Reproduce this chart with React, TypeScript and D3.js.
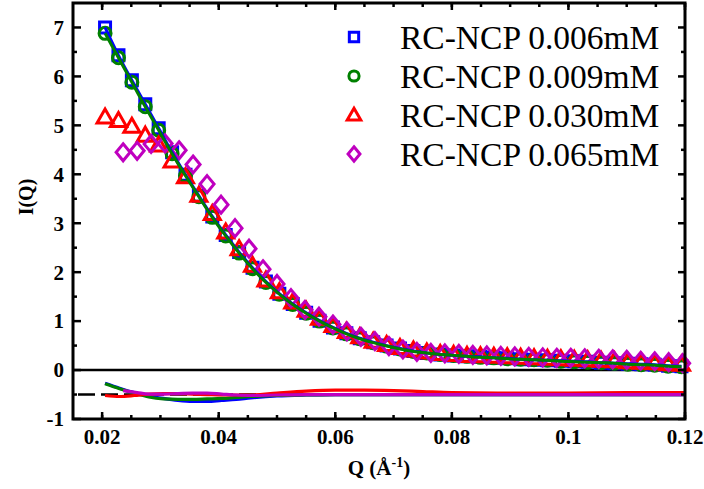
import React from 'react';
import * as d3 from 'd3';

// Q grid shared by the 0.006, 0.009 and 0.030 mM data sets
const qGrid = [
  0.0205, 0.0228, 0.0251, 0.0274, 0.0297, 0.032, 0.0343, 0.0366, 0.0389, 0.0412,
  0.0435, 0.0458, 0.0481, 0.0504, 0.0527, 0.055, 0.0573, 0.0596, 0.0619, 0.0642,
  0.0665, 0.0688, 0.0711, 0.0734, 0.0757, 0.078, 0.0803, 0.0826, 0.0849, 0.0872,
  0.0895, 0.0918, 0.0941, 0.0964, 0.0987, 0.101, 0.1033, 0.1056, 0.1079, 0.1102,
  0.1125, 0.1148, 0.1171, 0.1194,
];
// Q grid of the 0.065 mM data set
const qDiamond = [
  0.0236, 0.026, 0.0284, 0.0308, 0.0332, 0.0356, 0.038, 0.0404, 0.0428, 0.0452,
  0.0476, 0.05, 0.0524, 0.0548, 0.0572, 0.0596, 0.062, 0.0644, 0.0668, 0.0692,
  0.0716, 0.074, 0.0764, 0.0788, 0.0812, 0.0836, 0.086, 0.0884, 0.0908, 0.0932,
  0.0956, 0.098, 0.1004, 0.1028, 0.1052, 0.1076, 0.11, 0.1124, 0.1148, 0.1172,
  0.1196,
];

const blueI = [
  7.0, 6.43, 5.92, 5.43, 4.94, 4.45, 3.99, 3.56, 3.14, 2.76,
  2.41, 2.09, 1.81, 1.56, 1.35, 1.17, 1.01, 0.87, 0.75, 0.65,
  0.57, 0.5, 0.44, 0.39, 0.35, 0.32, 0.3, 0.28, 0.27, 0.25,
  0.24, 0.22, 0.21, 0.2, 0.19, 0.18, 0.17, 0.15, 0.14, 0.13,
  0.12, 0.11, 0.09, 0.08,
];
const greenI = [
  6.88, 6.38, 5.88, 5.38, 4.9, 4.42, 3.97, 3.54, 3.12, 2.74,
  2.39, 2.07, 1.79, 1.55, 1.34, 1.16, 1.0, 0.86, 0.74, 0.64,
  0.56, 0.49, 0.43, 0.38, 0.35, 0.32, 0.3, 0.28, 0.26, 0.25,
  0.23, 0.22, 0.21, 0.2, 0.18, 0.17, 0.16, 0.15, 0.14, 0.12,
  0.11, 0.1, 0.08, 0.07,
];
const redI = [
  5.17, 5.1, 4.98, 4.8, 4.6, 4.27, 3.95, 3.57, 3.2, 2.82,
  2.48, 2.14, 1.84, 1.6, 1.39, 1.22, 1.06, 0.91, 0.79, 0.68,
  0.59, 0.52, 0.46, 0.41, 0.37, 0.34, 0.32, 0.3, 0.29, 0.28,
  0.27, 0.26, 0.25, 0.24, 0.23, 0.22, 0.21, 0.2, 0.19, 0.17,
  0.16, 0.15, 0.13, 0.12,
];
const magentaI = [
  4.45, 4.48, 4.62, 4.63, 4.49, 4.2, 3.8, 3.38, 2.9, 2.48,
  2.06, 1.76, 1.47, 1.23, 1.09, 0.93, 0.79, 0.68, 0.59, 0.49,
  0.42, 0.37, 0.35, 0.34, 0.33, 0.31, 0.3, 0.29, 0.28, 0.27,
  0.26, 0.25, 0.25, 0.24, 0.23, 0.22, 0.21, 0.19, 0.18, 0.16,
  0.14,
];

// residuals, drawn around the -0.5 baseline
const residQ = [
  0.0205, 0.023, 0.0255, 0.028, 0.0305, 0.033, 0.0355, 0.038, 0.0405, 0.043,
  0.0455, 0.05, 0.055, 0.06, 0.065, 0.07, 0.075, 0.08, 0.09, 0.1, 0.11, 0.12,
];
const blueRes = [
  -0.27, -0.37, -0.46, -0.53, -0.58, -0.62, -0.64, -0.64, -0.62, -0.6,
  -0.57, -0.53, -0.51, -0.5, -0.5, -0.5, -0.5, -0.5, -0.5, -0.5, -0.5, -0.5,
];
const greenRes = [
  -0.28, -0.38, -0.47, -0.55, -0.59, -0.6, -0.6, -0.59, -0.58, -0.56,
  -0.54, -0.52, -0.51, -0.5, -0.5, -0.5, -0.5, -0.5, -0.5, -0.5, -0.5, -0.5,
];
const redRes = [
  -0.52, -0.54, -0.52, -0.49, -0.48, -0.48, -0.49, -0.5, -0.51, -0.51,
  -0.51, -0.47, -0.43, -0.41, -0.41, -0.42, -0.44, -0.46, -0.47, -0.47, -0.46, -0.46,
];
const magentaResQ = [
  0.0236, 0.026, 0.028, 0.0305, 0.033, 0.0355, 0.038, 0.0405, 0.043, 0.0455,
  0.05, 0.055, 0.06, 0.07, 0.08, 0.09, 0.1, 0.11, 0.12,
];
const magentaRes = [
  -0.42, -0.46, -0.49, -0.49, -0.48, -0.47, -0.47, -0.49, -0.51, -0.52,
  -0.51, -0.5, -0.5, -0.5, -0.5, -0.5, -0.5, -0.5, -0.5,
];

const legendLabels = ['RC-NCP 0.006mM', 'RC-NCP 0.009mM', 'RC-NCP 0.030mM', 'RC-NCP 0.065mM'];
const seriesColors = ['#0000ff', '#008000', '#ff0000', '#bf00bf'];
const seriesShapes = ['square', 'circle', 'triangle', 'diamond'];

const xTicks = [0.02, 0.04, 0.06, 0.08, 0.1, 0.12];
const xTickLabels = ['0.02', '0.04', '0.06', '0.08', '0.1', '0.12'];
const yTicks = [-1, 0, 1, 2, 3, 4, 5, 6, 7];

const Marker = ({ shape, cx, cy, color, small = false }) => {
  const sw = small ? 3 : 3;
  const k = small ? 0.85 : 1;
  if (shape === 'circle')
    return <circle cx={cx} cy={cy} r={6 * k} fill="none" stroke={color} strokeWidth={sw} />;
  let d = '';
  if (shape === 'square') d = `M${-5.5 * k},${-5.5 * k}h${11 * k}v${11 * k}h${-11 * k}Z`;
  if (shape === 'triangle') d = `M0,${-8 * k}L${8 * k},${6 * k}L${-8 * k},${6 * k}Z`;
  if (shape === 'diamond') d = `M0,${-8.5 * k}L${7 * k},0L0,${8.5 * k}L${-7 * k},0Z`;
  return (
    <path d={d} transform={`translate(${cx},${cy})`} fill="none" stroke={color}
      strokeWidth={sw} strokeLinejoin="miter" />
  );
};

export default function App() {
  const width = 704;
  const height = 489;
  const left = 73, right = 685, top = 3, bottom = 419;

  const x = d3.scaleLinear().domain([0.015, 0.12]).range([left, right]);
  const y = d3.scaleLinear().domain([-1, 7.5]).range([bottom, top]);

  const line = (qs, vs) =>
    d3.line()
      .x((d, i) => x(qs[i]))
      .y((d) => y(d))
      .curve(d3.curveMonotoneX)(vs);

  const xMinor = d3.range(0.02, 0.1201, 0.005);
  const yMinor = d3.range(-0.5, 7.5, 1);

  const series = [
    { q: qGrid, v: blueI },
    { q: qGrid, v: greenI },
    { q: qGrid, v: redI },
    { q: qDiamond, v: magentaI },
  ];
  const residuals = [
    { q: residQ, v: blueRes },
    { q: residQ, v: greenRes },
    { q: residQ, v: redRes },
    { q: magentaResQ, v: magentaRes },
  ];

  const font = '"Liberation Serif", "Times New Roman", serif';

  return (
    <svg width={width} height={height} style={{ position: 'absolute', left: 0, top: 0 }}
      fontFamily={font}>
      <rect width={width} height={height} fill="#fff" />

      {/* zero line and dashed residual baseline */}
      <line x1={left} x2={right} y1={y(0)} y2={y(0)} stroke="#000" strokeWidth={2.5} />
      <line x1={78} x2={right} y1={y(-0.5)} y2={y(-0.5)} stroke="#000" strokeWidth={2.5}
        strokeDasharray="17,6" />

      {/* residual curves */}
      {residuals.map((r, k) => (
        <path key={'r' + k} d={line(r.q, r.v)} fill="none" stroke={seriesColors[k]}
          strokeWidth={3.2} />
      ))}

      {/* data markers */}
      {series.map((s, k) => (
        <g key={'s' + k}>
          {s.v.map((v, i) => (
            <Marker key={i} shape={seriesShapes[k]} cx={x(s.q[i])} cy={y(v)} color={seriesColors[k]} />
          ))}
        </g>
      ))}

      {/* fit lines for the two dilute samples */}
      <path d={line(qGrid, blueI)} fill="none" stroke={seriesColors[0]} strokeWidth={3} />
      <path d={line(qGrid, greenI)} fill="none" stroke={seriesColors[1]} strokeWidth={3} />

      {/* frame */}
      <rect x={left} y={top} width={right - left} height={bottom - top} fill="none"
        stroke="#000" strokeWidth={3} />

      {/* x ticks (bottom and top) */}
      {xMinor.map((t, i) => (
        <g key={'xm' + i}>
          <line x1={x(t)} x2={x(t)} y1={bottom} y2={bottom - 4} stroke="#000" strokeWidth={2.5} />
          <line x1={x(t)} x2={x(t)} y1={top} y2={top + 4} stroke="#000" strokeWidth={2.5} />
        </g>
      ))}
      {xTicks.map((t, i) => (
        <g key={'xt' + i}>
          <line x1={x(t)} x2={x(t)} y1={bottom} y2={bottom - 7} stroke="#000" strokeWidth={2.5} />
          <line x1={x(t)} x2={x(t)} y1={top} y2={top + 7} stroke="#000" strokeWidth={2.5} />
          <text x={x(t)} y={444} textAnchor="middle" fontSize={21} fontWeight="bold">
            {xTickLabels[i]}
          </text>
        </g>
      ))}

      {/* y ticks (left and right) */}
      {yMinor.map((t, i) => (
        <g key={'ym' + i}>
          <line x1={left} x2={left + 4} y1={y(t)} y2={y(t)} stroke="#000" strokeWidth={2.5} />
          <line x1={right} x2={right - 4} y1={y(t)} y2={y(t)} stroke="#000" strokeWidth={2.5} />
        </g>
      ))}
      {yTicks.map((t, i) => (
        <g key={'yt' + i}>
          <line x1={left} x2={left + 8} y1={y(t)} y2={y(t)} stroke="#000" strokeWidth={2.5} />
          <line x1={right} x2={right - 7} y1={y(t)} y2={y(t)} stroke="#000" strokeWidth={2.5} />
          <text x={64} y={y(t)} dy="0.35em" textAnchor="end" fontSize={21} fontWeight="bold">
            {t}
          </text>
        </g>
      ))}

      {/* axis titles */}
      <text x={(left + right) / 2} y={475} textAnchor="middle" fontSize={21} fontWeight="bold">
        Q (Å<tspan dy={-8} fontSize={14}>-1</tspan><tspan dy={8}>)</tspan>
      </text>
      <text transform="translate(33,197) rotate(-90)" textAnchor="middle" fontSize={20}
        fontWeight="bold">
        I(Q)
      </text>

      {/* legend */}
      {legendLabels.map((lab, k) => (
        <g key={'l' + k}>
          <Marker shape={seriesShapes[k]} cx={354} cy={37 + k * 39} color={seriesColors[k]} small />
          <text x={400} y={37 + k * 39} dy="0.35em" fontSize={33.5}>
            {lab}
          </text>
        </g>
      ))}
    </svg>
  );
}
